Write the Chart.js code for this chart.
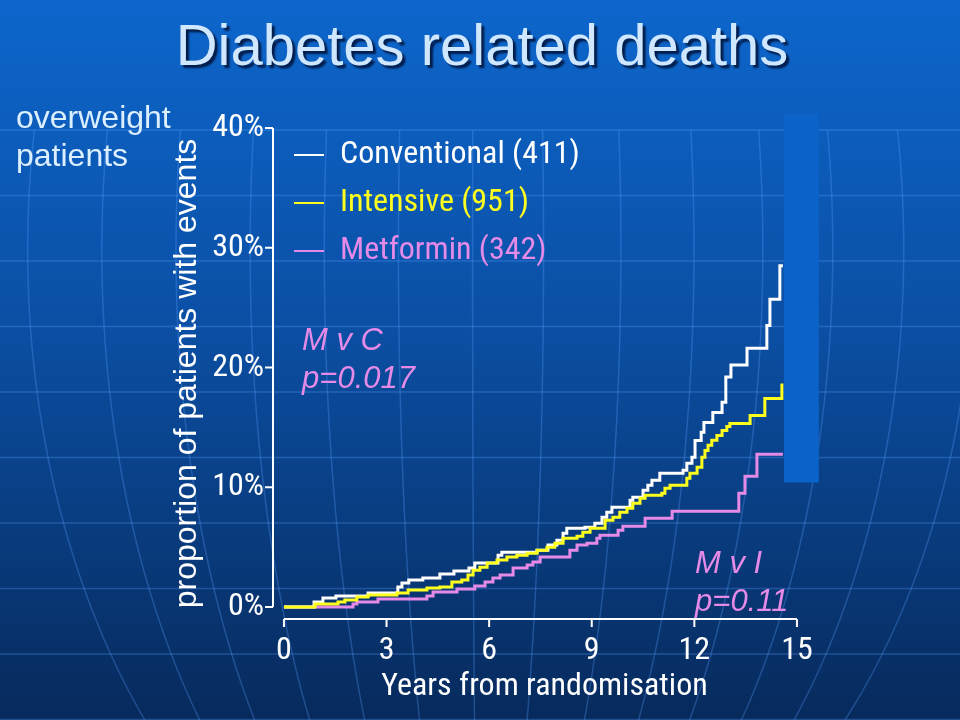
<!DOCTYPE html>
<html>
<head>
<meta charset="utf-8">
<title>Diabetes related deaths</title>
<script src="https://cdn.jsdelivr.net/npm/chart.js@4.4.1/dist/chart.umd.min.js"></script>
<style>
  html, body { margin: 0; padding: 0; background: #0a4ea8; }
  #wrap { width: 960px; height: 720px; }
</style>
</head>
<body>
<div id="wrap"><canvas id="chart" width="960" height="720"></canvas></div>
<script>
// Kaplan-Meier style step curves: years from randomisation vs % of patients with events
const conventionalYears = [0, 0.88, 1.14, 1.52, 2.46, 3.33, 3.45, 3.65, 4.06, 4.56, 4.97, 5.41, 5.58, 6.26, 6.37, 7.4, 7.72, 7.98, 8.16, 8.27, 8.8, 9.09, 9.3, 9.44, 9.59, 10.12, 10.2, 10.5, 10.64, 10.76, 10.99, 11.67, 11.78, 11.93, 12.02, 12.2, 12.28, 12.54, 12.81, 12.92, 13.07, 13.54, 14.12, 14.21, 14.5, 14.59];
const conventionalPct = [0, 0.42, 0.75, 0.92, 1.17, 1.67, 2.0, 2.25, 2.42, 2.75, 3.0, 3.25, 3.67, 4.33, 4.58, 4.75, 5.17, 5.58, 6.17, 6.58, 6.67, 7.0, 7.5, 7.92, 8.33, 8.92, 9.17, 9.75, 10.17, 10.58, 11.17, 11.42, 12.0, 12.5, 13.9, 14.6, 15.4, 16.25, 17.1, 19.2, 20.2, 21.6, 23.5, 25.7, 28.5, 28.5];

const intensiveYears = [0, 0.91, 1.58, 1.78, 2.13, 2.46, 3.3, 3.63, 4.18, 4.56, 4.91, 5.2, 5.38, 5.53, 5.73, 5.94, 6.23, 6.52, 6.81, 7.11, 7.4, 7.69, 7.92, 8.16, 8.57, 8.74, 8.95, 9.39, 9.62, 9.82, 10.03, 10.2, 10.41, 10.56, 11.05, 11.14, 11.29, 11.78, 11.87, 12.08, 12.22, 12.31, 12.4, 12.51, 12.66, 12.81, 12.95, 13.04, 13.63, 14.06, 14.56];
const intensivePct = [0, 0.25, 0.42, 0.58, 0.83, 1.0, 1.17, 1.42, 1.58, 1.67, 2.08, 2.25, 2.67, 3.08, 3.33, 3.67, 3.92, 4.17, 4.33, 4.5, 4.75, 5.0, 5.33, 5.75, 5.92, 6.25, 6.58, 7.25, 7.5, 7.92, 8.25, 8.67, 9.08, 9.33, 9.5, 9.92, 10.17, 10.75, 11.17, 11.67, 12.5, 13.08, 13.5, 13.92, 14.33, 14.75, 15.08, 15.33, 16.0, 17.42, 18.67];

const metforminYears = [0, 2.02, 2.13, 2.75, 4.18, 4.36, 5.06, 5.58, 5.88, 6.11, 6.32, 6.7, 7.11, 7.28, 7.49, 8.36, 8.57, 8.86, 9.15, 9.24, 9.77, 9.91, 10.56, 11.35, 13.3, 13.48, 13.83, 14.59];
const metforminPct = [0, 0.25, 0.42, 0.67, 0.92, 1.25, 1.5, 1.75, 2.08, 2.42, 2.67, 3.25, 3.5, 3.75, 4.17, 4.75, 5.17, 5.33, 5.75, 6.0, 6.42, 6.75, 7.42, 8.0, 9.5, 10.92, 12.75, 12.75];

const seriesLabels = ['Conventional (411)', 'Intensive (951)', 'Metformin (342)'];
const xTicks = [0, 3, 6, 9, 12, 15];
const yTicks = [0, 10, 20, 30, 40];
const noteTexts = [['M v C', 'p=0.017'], ['M v I', 'p=0.11']];

// where the p-value notes sit, in data units (years, % baseline)
const NOTE_POS = [
    { x: 0.53, y: [21.5, 18.25] },
    { x: 12.02, y: [2.83, -0.33] }
];
// plain blue block on the right of the plot (years / %)
const COVER_BOX = { x0: 14.62, x1: 15.64, y0: 10.4, y1: 41.2 };

const NARROW = "'Roboto Condensed', 'Liberation Sans Narrow', 'Liberation Sans', sans-serif";
const REGULAR = "'Liberation Sans', Arial, sans-serif";
const WHITE = '#ffffff';
const YELLOW = '#ffff1e';
const PINK = '#e68ae8';

const toPoints = (xs, ys) => xs.map((x, i) => ({ x, y: ys[i] }));

// background, title, axes and notes
const backdrop = {
    id: 'backdrop',
    beforeDraw(chart) {
        const { ctx, width, height } = chart;
        ctx.save();
        const g = ctx.createLinearGradient(0, 0, 0, height);
        g.addColorStop(0, '#0d66cc');
        g.addColorStop(0.45, '#0b4fa4');
        g.addColorStop(1, '#072a5c');
        ctx.fillStyle = g;
        ctx.fillRect(0, 0, width, height);

        // faint globe grid
        ctx.strokeStyle = 'rgba(90, 160, 255, 0.30)';
        ctx.lineWidth = 1.5;
        for (let y = 130; y < height; y += 65.5) {
            ctx.beginPath();
            ctx.moveTo(0, y);
            ctx.lineTo(width, y);
            ctx.stroke();
        }
        const meridians = [53, 123, 193, 263, 333, 403, 473, 540, 613, 682, 747, 813, 880, 945];
        meridians.forEach(m => {
            const a = (m - 480) / 0.944;
            ctx.beginPath();
            for (let y = 130; y <= height; y += 10) {
                const s = (y - 250) / 700;
                const px = 480 + a * Math.sqrt(1 - s * s);
                if (y === 130) ctx.moveTo(px, y); else ctx.lineTo(px, y);
            }
            ctx.stroke();
        });

        // slide title
        ctx.font = `58px ${REGULAR}`;
        ctx.textAlign = 'center';
        ctx.textBaseline = 'alphabetic';
        ctx.shadowColor = 'rgba(0, 20, 60, 0.9)';
        ctx.shadowOffsetX = 3;
        ctx.shadowOffsetY = 3;
        ctx.shadowBlur = 2;
        ctx.fillStyle = '#cfe7ff';
        ctx.fillText('Diabetes related deaths', 482, 65);
        ctx.shadowColor = 'transparent';

        ctx.font = `32px ${REGULAR}`;
        ctx.textAlign = 'left';
        ctx.fillStyle = '#dcefff';
        ctx.fillText('overweight', 16, 128);
        ctx.fillText('patients', 16, 166);
        ctx.restore();
    },
    afterLayout(chart) {
        // legend in 'chartArea' gets top reset to 0, so place it by hand
        const lg = chart.legend;
        const ca = chart.chartArea;
        const w = lg.width;
        const h = lg.height;
        lg.left = ca.left + 5;
        lg.right = lg.left + w;
        lg.top = ca.top - 5;
        lg.bottom = lg.top + h;
    },
    afterDatasetsDraw(chart) {
        const { ctx, scales: { x, y } } = chart;
        ctx.save();

        // detached axes, R style
        ctx.strokeStyle = WHITE;
        ctx.lineWidth = 2;
        ctx.beginPath();
        const ax = x.left;
        ctx.moveTo(ax, y.getPixelForValue(yTicks[0]));
        ctx.lineTo(ax, y.getPixelForValue(yTicks[yTicks.length - 1]));
        yTicks.forEach(v => {
            const py = y.getPixelForValue(v);
            ctx.moveTo(ax, py);
            ctx.lineTo(ax - 8, py);
        });
        const ay = y.bottom;
        ctx.moveTo(x.getPixelForValue(xTicks[0]), ay);
        ctx.lineTo(x.getPixelForValue(xTicks[xTicks.length - 1]), ay);
        xTicks.forEach(v => {
            const px = x.getPixelForValue(v);
            ctx.moveTo(px, ay);
            ctx.lineTo(px, ay + 8);
        });
        ctx.stroke();

        // blue block
        const bx0 = x.getPixelForValue(COVER_BOX.x0);
        const bx1 = x.getPixelForValue(COVER_BOX.x1);
        const by0 = y.getPixelForValue(COVER_BOX.y1);
        const by1 = y.getPixelForValue(COVER_BOX.y0);
        ctx.fillStyle = '#0b63c9';
        ctx.fillRect(bx0, by0, bx1 - bx0, by1 - by0);

        // p-value notes
        ctx.font = `italic 31px ${REGULAR}`;
        ctx.fillStyle = PINK;
        ctx.textAlign = 'left';
        ctx.textBaseline = 'alphabetic';
        noteTexts.forEach((lines, i) => {
            const pos = NOTE_POS[i];
            lines.forEach((t, j) => {
                ctx.fillText(t, x.getPixelForValue(pos.x), y.getPixelForValue(pos.y[j]));
            });
        });
        ctx.restore();
    }
};

const ctx = document.getElementById('chart').getContext('2d');
new Chart(ctx, {
    type: 'line',
    data: {
        datasets: [
            {
                label: seriesLabels[0],
                data: toPoints(conventionalYears, conventionalPct),
                borderColor: WHITE,
                backgroundColor: WHITE,
                borderWidth: 3,
                pointRadius: 0,
                stepped: true,
                order: 1
            },
            {
                label: seriesLabels[1],
                data: toPoints(intensiveYears, intensivePct),
                borderColor: YELLOW,
                backgroundColor: YELLOW,
                borderWidth: 3,
                pointRadius: 0,
                stepped: true,
                order: 0
            },
            {
                label: seriesLabels[2],
                data: toPoints(metforminYears, metforminPct),
                borderColor: PINK,
                backgroundColor: PINK,
                borderWidth: 3,
                pointRadius: 0,
                stepped: true,
                order: 2
            }
        ]
    },
    options: {
        responsive: false,
        animation: false,
        events: [],
        layout: { padding: { left: 0, top: 128, right: 144, bottom: 0 } },
        scales: {
            x: {
                type: 'linear',
                min: -0.32,
                max: 15.557,
                afterFit: scale => { scale.height = 101; },
                afterBuildTicks: scale => { scale.ticks = xTicks.map(v => ({ value: v })); },
                grid: { display: false, drawTicks: false },
                border: { display: false },
                ticks: {
                    color: WHITE,
                    font: { family: NARROW, size: 32 },
                    padding: 13,
                    maxRotation: 0,
                    autoSkip: false
                },
                title: {
                    display: true,
                    text: 'Years from randomisation',
                    color: WHITE,
                    font: { family: NARROW, size: 32 },
                    padding: { top: 0, bottom: 14 }
                }
            },
            y: {
                type: 'linear',
                min: -1,
                max: 40,
                afterFit: scale => { scale.width = 273; },
                afterBuildTicks: scale => { scale.ticks = yTicks.map(v => ({ value: v })); },
                grid: { display: false, drawTicks: false },
                border: { display: false },
                ticks: {
                    color: WHITE,
                    font: { family: NARROW, size: 32 },
                    padding: 9,
                    callback: value => `${value}%`
                },
                title: {
                    display: true,
                    text: 'proportion of patients with events',
                    color: WHITE,
                    font: { family: REGULAR, size: 32 },
                    padding: { top: 168, bottom: 0 }
                }
            }
        },
        plugins: {
            legend: {
                position: 'chartArea',
                align: 'start',
                labels: {
                    usePointStyle: true,
                    pointStyleWidth: 30,
                    padding: 16,
                    font: { family: NARROW, size: 32 },
                    generateLabels: chart => chart.data.datasets.map((ds, i) => ({
                        text: ds.label,
                        fontColor: ds.borderColor,
                        strokeStyle: ds.borderColor,
                        fillStyle: ds.borderColor,
                        lineWidth: 2,
                        pointStyle: 'line',
                        hidden: false,
                        datasetIndex: i
                    }))
                }
            },
            tooltip: { enabled: false }
        }
    },
    plugins: [backdrop]
});
</script>
</body>
</html>
